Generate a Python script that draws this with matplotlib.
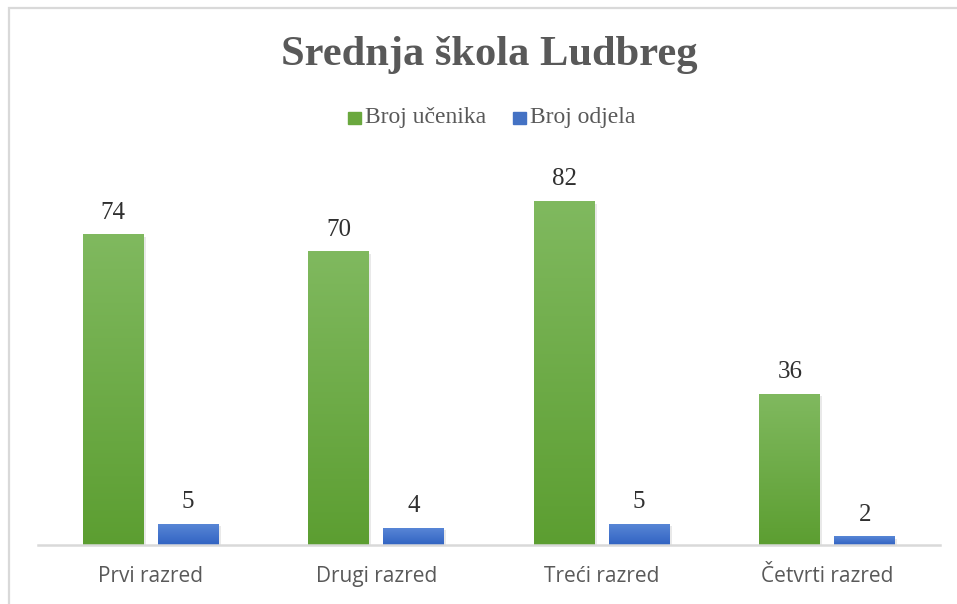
import numpy as np
import matplotlib.pyplot as plt
import matplotlib.patheffects as pe
from matplotlib.patches import Rectangle
from matplotlib.colors import LinearSegmentedColormap

razredi = ["Prvi razred", "Drugi razred", "Treći razred", "Četvrti razred"]
broj_ucenika = [74, 70, 82, 36]
broj_odjela = [5, 4, 5, 2]

gray = "#595959"
green_cm = LinearSegmentedColormap.from_list("g", ["#5c9e31", "#80b95f"])
blue_cm = LinearSegmentedColormap.from_list("b", ["#3163c2", "#5886d6"])

fig = plt.figure(figsize=(9.57, 6.04), dpi=100)
ax = fig.add_axes([38 / 957, 1 - 545 / 604, 902 / 957, 385 / 604])

# chart border
fig.patches.append(Rectangle((8.5 / 957, -0.1), 1.2, 1 - 7.5 / 604 + 0.1,
                             transform=fig.transFigure, fill=False,
                             edgecolor="#d9d9d9", linewidth=1.6))

x = np.arange(len(razredi))
w = 0.27
off = 0.166
shadow = [pe.SimplePatchShadow(offset=(1.5, -1.5), shadow_rgbFace="#c8c8c8", alpha=0.4), pe.Normal()]
b1 = ax.bar(x - off, broj_ucenika, w, color="#6aa83e", path_effects=shadow, zorder=2)
b2 = ax.bar(x + off, broj_odjela, w, color="#4472c4", path_effects=shadow, zorder=2)

grad = np.linspace(0, 1, 256).reshape(-1, 1)
for bars, cm in ((b1, green_cm), (b2, blue_cm)):
    for r in bars:
        x0, y0 = r.get_x(), r.get_y()
        ax.imshow(grad, cmap=cm, origin="lower", aspect="auto", zorder=3,
                  extent=(x0, x0 + r.get_width(), y0, y0 + r.get_height()))

for bars, vals in ((b1, broj_ucenika), (b2, broj_odjela)):
    for r, v in zip(bars, vals):
        ax.annotate(str(v), (r.get_x() + r.get_width() / 2, r.get_height()),
                    xytext=(0, 8), textcoords="offset points", ha="center", va="bottom",
                    fontsize=18, family="Liberation Serif", color="#303030")

ax.set_xlim(-0.5, len(razredi) - 0.5)
ax.set_ylim(0, 385 / 4.19)
ax.set_xticks(x)
ax.set_xticklabels(razredi, fontsize=15, family="Open Sans", color=gray)
ax.tick_params(axis="x", length=0, pad=15)
ax.set_yticks([])
for s in ("top", "right", "left"):
    ax.spines[s].set_visible(False)
ax.spines["bottom"].set_color("#d9d9d9")
ax.spines["bottom"].set_linewidth(1.8)
ax.spines["bottom"].set_zorder(5)

fig.text(489 / 957, 1 - 55 / 604, "Srednja škola Ludbreg", ha="center", va="center",
         fontsize=30.6, fontweight="bold", family="Liberation Serif", color=gray)

# legend
ly = 1 - 118 / 604
for sx, tx, col, lab in ((348, 365, "#6aa83e", "Broj učenika"), (513, 530, "#4472c4", "Broj odjela")):
    fig.patches.append(Rectangle((sx / 957, ly - 6 / 604), 12.5 / 957, 12 / 604,
                                 transform=fig.transFigure, color=col))
    fig.text(tx / 957, ly, lab, ha="left", va="center", fontsize=17,
             family="Liberation Serif", color=gray)

fig.savefig("out.png", dpi=100)
